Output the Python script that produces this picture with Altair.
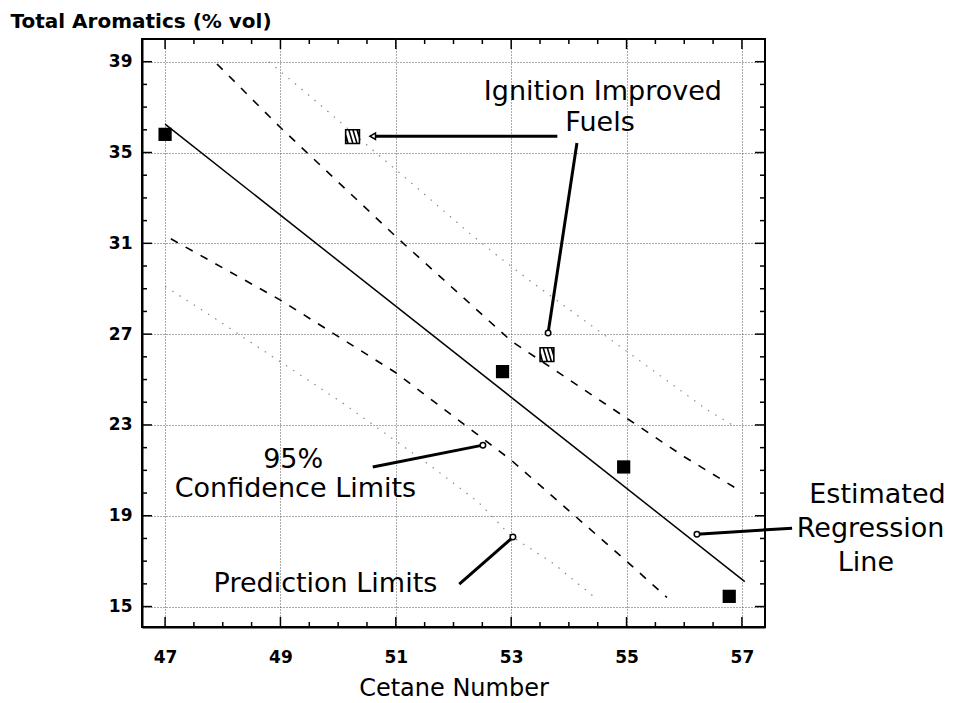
import altair as alt
import pandas as pd

# ---------------- data ----------------
fuel_cetane = [47.0, 52.85, 54.95, 56.78]
fuel_arom = [35.8, 25.35, 21.15, 15.45]

improved_cetane = [50.25, 53.62]
improved_arom = [35.7, 26.1]

reg_x = [47.0, 57.05]
reg_y = [36.25, 16.1]

ucl_x = [47.9, 49.0, 51.0, 53.0, 55.0, 56.0, 57.0]
ucl_y = [38.9, 36.1, 31.3, 26.7, 23.3, 21.6, 20.05]

lcl_x = [47.1, 49.0, 51.0, 53.0, 55.0, 55.7]
lcl_y = [31.2, 28.5, 25.3, 21.45, 17.0, 15.4]

upl_x = [48.8, 49.55, 50.1, 51.25, 52.3, 52.74, 53.35, 56.4, 56.9]
upl_y = [39.0, 37.4, 36.2, 33.7, 31.4, 30.5, 29.3, 23.66, 22.9]

lpl_x = [47.0, 47.8, 48.57, 50.06, 51.63, 52.43, 53.0, 53.73, 54.5]
lpl_y = [29.1, 27.8, 26.5, 24.0, 21.15, 19.6, 18.1, 16.9, 15.3]

x_major = [47, 49, 51, 53, 55, 57]
x_minor = [47.5, 48, 48.5, 49.5, 50, 50.5, 51.5, 52, 52.5, 53.5, 54, 54.5, 55.5, 56, 56.5]
y_major = [15, 19, 23, 27, 31, 35, 39]
y_minor = [16, 17, 18, 20, 21, 22, 24, 25, 26, 28, 29, 30, 32, 33, 34, 36, 37, 38]

# annotation texts
ann_text = ["Ignition Improved", "Fuels", "95%", "Confidence Limits",
            "Prediction Limits", "Estimated", "Regression", "Line"]
ann_x = [54.59, 54.54, 49.22, 49.26, 49.78, 59.35, 59.23, 59.15]
ann_y = [37.65, 36.3, 21.45, 20.2, 16.0, 19.9, 18.4, 16.9]

# annotation leader lines (start -> end at the marker)
lead_x = [53.8, 54.14, 50.6, 52.1, 57.87]
lead_y = [35.72, 35.42, 21.15, 15.99, 18.45]
lead_x2 = [50.6, 53.64, 52.51, 53.03, 56.22]
lead_y2 = [35.72, 27.05, 22.11, 18.06, 18.19]

W, H = 623, 588
FONT = "DejaVu Sans"

xs = alt.Scale(domain=[46.6, 57.4], nice=False, zero=False)
ys = alt.Scale(domain=[14.1, 40.0], nice=False, zero=False)

x_axis = alt.Axis(values=x_major, format="d", title="Cetane Number",
                  grid=True, ticks=False, labelPadding=22,
                  labelFont=FONT, labelFontSize=17, labelFontWeight="bold",
                  titleFont=FONT, titleFontSize=24, titleFontWeight="normal",
                  titlePadding=11)
y_axis = alt.Axis(values=y_major, format="d", title="Total Aromatics (% vol)",
                  grid=True, ticks=False, labelPadding=10,
                  labelFont=FONT, labelFontSize=17, labelFontWeight="bold",
                  titleFont=FONT, titleFontSize=20, titleFontWeight="bold",
                  titleAngle=0, titleAlign="left", titleBaseline="middle",
                  titleX=-132, titleY=-18)


def X(f):
    return alt.X(f, type="quantitative", scale=xs, axis=x_axis)


def Y(f):
    return alt.Y(f, type="quantitative", scale=ys, axis=y_axis)


def line_df(xv, yv):
    return pd.DataFrame({"x": xv, "y": yv, "o": list(range(len(xv)))})


base_grid = alt.Chart(pd.DataFrame({"x": [47.0], "y": [15.0]})).mark_point(opacity=0).encode(
    x=X("x"), y=Y("y"))

# inward ticks
xmaj = pd.DataFrame({"v": x_major})
xmin = pd.DataFrame({"v": x_minor})
ymaj = pd.DataFrame({"v": y_major})
ymin = pd.DataFrame({"v": y_minor})

tick_layers = []
for df, ln in [(xmaj, 10), (xmin, 5)]:
    tick_layers.append(alt.Chart(df).mark_rule(color="black", strokeWidth=1.5).encode(
        x=X("v"), y=alt.value(H), y2=alt.value(H - ln)))
    tick_layers.append(alt.Chart(df).mark_rule(color="black", strokeWidth=1.5).encode(
        x=X("v"), y=alt.value(0), y2=alt.value(ln)))
for df, ln in [(ymaj, 10), (ymin, 5)]:
    tick_layers.append(alt.Chart(df).mark_rule(color="black", strokeWidth=1.5).encode(
        y=Y("v"), x=alt.value(0), x2=alt.value(ln)))
    tick_layers.append(alt.Chart(df).mark_rule(color="black", strokeWidth=1.5).encode(
        y=Y("v"), x=alt.value(W), x2=alt.value(W - ln)))

pred_u = alt.Chart(line_df(upl_x, upl_y)).mark_line(
    color="#8a8a8a", strokeWidth=1.2, strokeDash=[1.5, 7]).encode(x=X("x"), y=Y("y"), order="o:Q")
pred_l = alt.Chart(line_df(lpl_x, lpl_y)).mark_line(
    color="#8a8a8a", strokeWidth=1.2, strokeDash=[1.5, 7]).encode(x=X("x"), y=Y("y"), order="o:Q")
conf_u = alt.Chart(line_df(ucl_x, ucl_y)).mark_line(
    color="black", strokeWidth=1.6, strokeDash=[8, 9]).encode(x=X("x"), y=Y("y"), order="o:Q")
conf_l = alt.Chart(line_df(lcl_x, lcl_y)).mark_line(
    color="black", strokeWidth=1.6, strokeDash=[8, 9]).encode(x=X("x"), y=Y("y"), order="o:Q")
reg = alt.Chart(line_df(reg_x, reg_y)).mark_line(
    color="black", strokeWidth=1.5).encode(x=X("x"), y=Y("y"), order="o:Q")

fuels = alt.Chart(pd.DataFrame({"x": fuel_cetane, "y": fuel_arom})).mark_point(
    shape="square", filled=True, color="black", size=175, opacity=1).encode(x=X("x"), y=Y("y"))

hatch_path = ("M-1,-1H1V1H-1Z M-1,-0.3L-0.65,1 M-0.55,-1L0.05,1 "
              "M0.05,-1L0.65,1 M0.65,-1L1,0.2")
improved = alt.Chart(pd.DataFrame({"x": improved_cetane, "y": improved_arom})).mark_point(
    shape=hatch_path, fill="white", fillOpacity=1, stroke="black", strokeWidth=1.6,
    size=190, opacity=1).encode(x=X("x"), y=Y("y"))

leads_df = pd.DataFrame({"x": lead_x, "y": lead_y, "x2": lead_x2, "y2": lead_y2})
leads = alt.Chart(leads_df).mark_rule(color="black", strokeWidth=3).encode(
    x=X("x"), y=Y("y"), x2="x2", y2="y2")

ends_df = pd.DataFrame({"x": lead_x2[1:], "y": lead_y2[1:]})
ends = alt.Chart(ends_df).mark_point(
    shape="circle", fill="white", fillOpacity=1, stroke="black", strokeWidth=1.5,
    size=30, opacity=1).encode(x=X("x"), y=Y("y"))
tip = alt.Chart(pd.DataFrame({"x": [lead_x2[0]], "y": [lead_y2[0]]})).mark_point(
    shape="triangle-left", fill="white", fillOpacity=1, stroke="black", strokeWidth=1.5,
    size=40, opacity=1).encode(x=X("x"), y=Y("y"))

texts = alt.Chart(pd.DataFrame({"x": ann_x, "y": ann_y, "t": ann_text})).mark_text(
    font=FONT, fontSize=27, color="black", align="center", baseline="middle").encode(
    x=X("x"), y=Y("y"), text="t:N")

chart = alt.layer(
    base_grid, *tick_layers, pred_u, pred_l, conf_u, conf_l, reg,
    leads, fuels, improved, ends, tip, texts
).properties(
    width=W, height=H,
    autosize=alt.AutoSizeParams(type="none"),
    padding={"left": 142, "top": 39, "right": 195, "bottom": 76},
    background="white",
).configure_view(
    stroke="black", strokeWidth=2
).configure_axis(
    domainColor="black", domainWidth=2, labelColor="black", titleColor="black",
    gridColor="#555555", gridDash=[1, 2], gridWidth=1
)

chart.save("out.html", embed_options={"renderer": "svg", "actions": False})
